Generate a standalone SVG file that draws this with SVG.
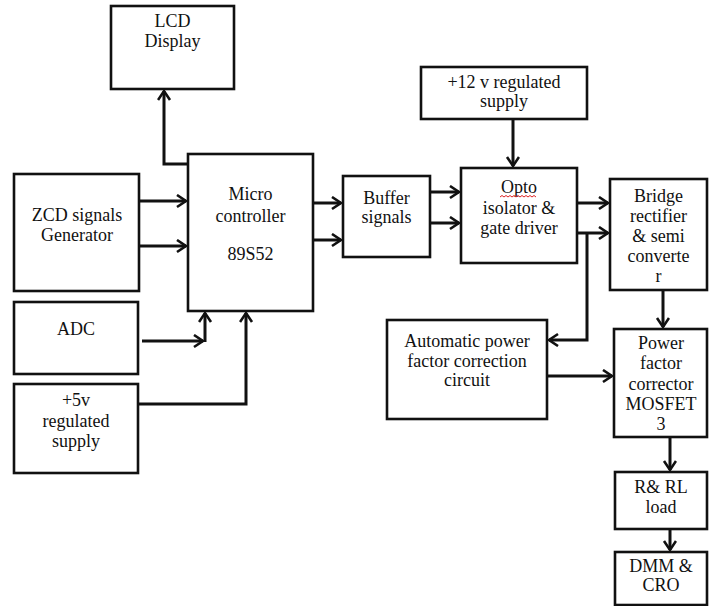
<svg xmlns="http://www.w3.org/2000/svg" width="709" height="606" viewBox="0 0 709 606">
<style>
.box{fill:#fff;stroke:#111;stroke-width:2.6}
.t{font-family:'Liberation Serif','DejaVu Serif',serif;font-size:18px;fill:#111;text-anchor:middle}
.c{fill:none;stroke:#111;stroke-width:3}
</style>
<defs>
<marker id="ah" markerUnits="userSpaceOnUse" markerWidth="14" markerHeight="16" refX="10" refY="7" orient="auto" viewBox="0 0 14 16">
<path d="M1,1 L10,7 L1,13" fill="none" stroke="#111" stroke-width="2.6"/>
</marker>
</defs>
<rect width="709" height="606" fill="#fff"/>
<g id="connectors">
<polyline class="c" points="188,164 164,164 164,91" marker-end="url(#ah)"/>
<line class="c" x1="139" y1="201" x2="186" y2="201" marker-end="url(#ah)"/>
<line class="c" x1="139" y1="246" x2="186" y2="246" marker-end="url(#ah)"/>
<line class="c" x1="313" y1="203" x2="341" y2="203" marker-end="url(#ah)"/>
<line class="c" x1="313" y1="240" x2="341" y2="240" marker-end="url(#ah)"/>
<line class="c" x1="430" y1="192" x2="459" y2="192" marker-end="url(#ah)"/>
<line class="c" x1="430" y1="223" x2="459" y2="223" marker-end="url(#ah)"/>
<line class="c" x1="513" y1="119" x2="513" y2="166" marker-end="url(#ah)"/>
<line class="c" x1="577" y1="203" x2="608" y2="203" marker-end="url(#ah)"/>
<line class="c" x1="577" y1="233" x2="608" y2="233" marker-end="url(#ah)"/>
<polyline class="c" points="587,233 587,340 549,340" marker-end="url(#ah)"/>
<line class="c" x1="663" y1="290" x2="663" y2="327" marker-end="url(#ah)"/>
<line class="c" x1="547" y1="376" x2="612" y2="376" marker-end="url(#ah)"/>
<line class="c" x1="670" y1="437" x2="670" y2="470" marker-end="url(#ah)"/>
<line class="c" x1="670" y1="529" x2="670" y2="550" marker-end="url(#ah)"/>
<line class="c" x1="142" y1="341" x2="203" y2="341" marker-end="url(#ah)"/>
<line class="c" x1="205" y1="342" x2="205" y2="313" marker-end="url(#ah)"/>
<polyline class="c" points="138,404 246,404 246,313" marker-end="url(#ah)"/>
</g>
<g id="lcd">
<rect class="box" x="111" y="6" width="123" height="83"/>
<text class="t" x="172.5" y="27">LCD</text>
<text class="t" x="172.5" y="47">Display</text>
</g>
<g id="micro">
<rect class="box" x="188" y="154" width="125" height="157"/>
<text class="t" x="250.5" y="200">Micro</text>
<text class="t" x="250.5" y="222">controller</text>
<text class="t" x="250.5" y="260">89S52</text>
</g>
<g id="zcd">
<rect class="box" x="14" y="174" width="125" height="117"/>
<text class="t" x="77" y="221">ZCD signals</text>
<text class="t" x="77" y="241">Generator</text>
</g>
<g id="adc">
<rect class="box" x="14" y="302" width="124" height="72"/>
<text class="t" x="76" y="335">ADC</text>
</g>
<g id="supply5">
<rect class="box" x="14" y="384" width="124" height="89"/>
<text class="t" x="76" y="406">+5v</text>
<text class="t" x="76" y="427">regulated</text>
<text class="t" x="76" y="447">supply</text>
</g>
<g id="buffer">
<rect class="box" x="343" y="176" width="87" height="81"/>
<text class="t" x="386.5" y="204">Buffer</text>
<text class="t" x="386.5" y="223">signals</text>
</g>
<g id="supply12">
<rect class="box" x="421" y="67" width="166" height="52"/>
<text class="t" x="504" y="88">+12 v regulated</text>
<text class="t" x="504" y="107">supply</text>
</g>
<g id="opto">
<rect class="box" x="461" y="168" width="116" height="95"/>
<text class="t" x="519" y="193">Opto</text>
<path d="M500,197 l2,-1.5 l2,1.5 l2,-1.5 l2,1.5 l2,-1.5 l2,1.5 l2,-1.5 l2,1.5 l2,-1.5 l2,1.5 l2,-1.5 l2,1.5 l2,-1.5 l2,1.5 l2,-1.5 l2,1.5 l2,-1.5 l2,1.5" fill="none" stroke="#d22" stroke-width="1"/>
<text class="t" x="519" y="214">isolator &amp;</text>
<text class="t" x="519" y="234">gate driver</text>
</g>
<g id="bridge">
<rect class="box" x="610" y="179" width="97" height="111"/>
<text class="t" x="658.5" y="202">Bridge</text>
<text class="t" x="658.5" y="222">rectifier</text>
<text class="t" x="658.5" y="242">&amp; semi</text>
<text class="t" x="658.5" y="262">converte</text>
<text class="t" x="658.5" y="282">r</text>
</g>
<g id="apfc">
<rect class="box" x="387" y="320" width="160" height="99"/>
<text class="t" x="467" y="347">Automatic power</text>
<text class="t" x="467" y="367">factor correction</text>
<text class="t" x="467" y="386">circuit</text>
</g>
<g id="pfc">
<rect class="box" x="614" y="329" width="93" height="108"/>
<text class="t" x="661" y="349">Power</text>
<text class="t" x="661" y="369">factor</text>
<text class="t" x="661" y="390">corrector</text>
<text class="t" x="661" y="410">MOSFET</text>
<text class="t" x="661" y="430">3</text>
</g>
<g id="load">
<rect class="box" x="615" y="472" width="92" height="57"/>
<text class="t" x="661" y="493">R&amp; RL</text>
<text class="t" x="661" y="513">load</text>
</g>
<g id="dmm">
<rect class="box" x="615" y="552" width="92" height="53"/>
<text class="t" x="661" y="572">DMM &amp;</text>
<text class="t" x="661" y="591">CRO</text>
</g>
</svg>
